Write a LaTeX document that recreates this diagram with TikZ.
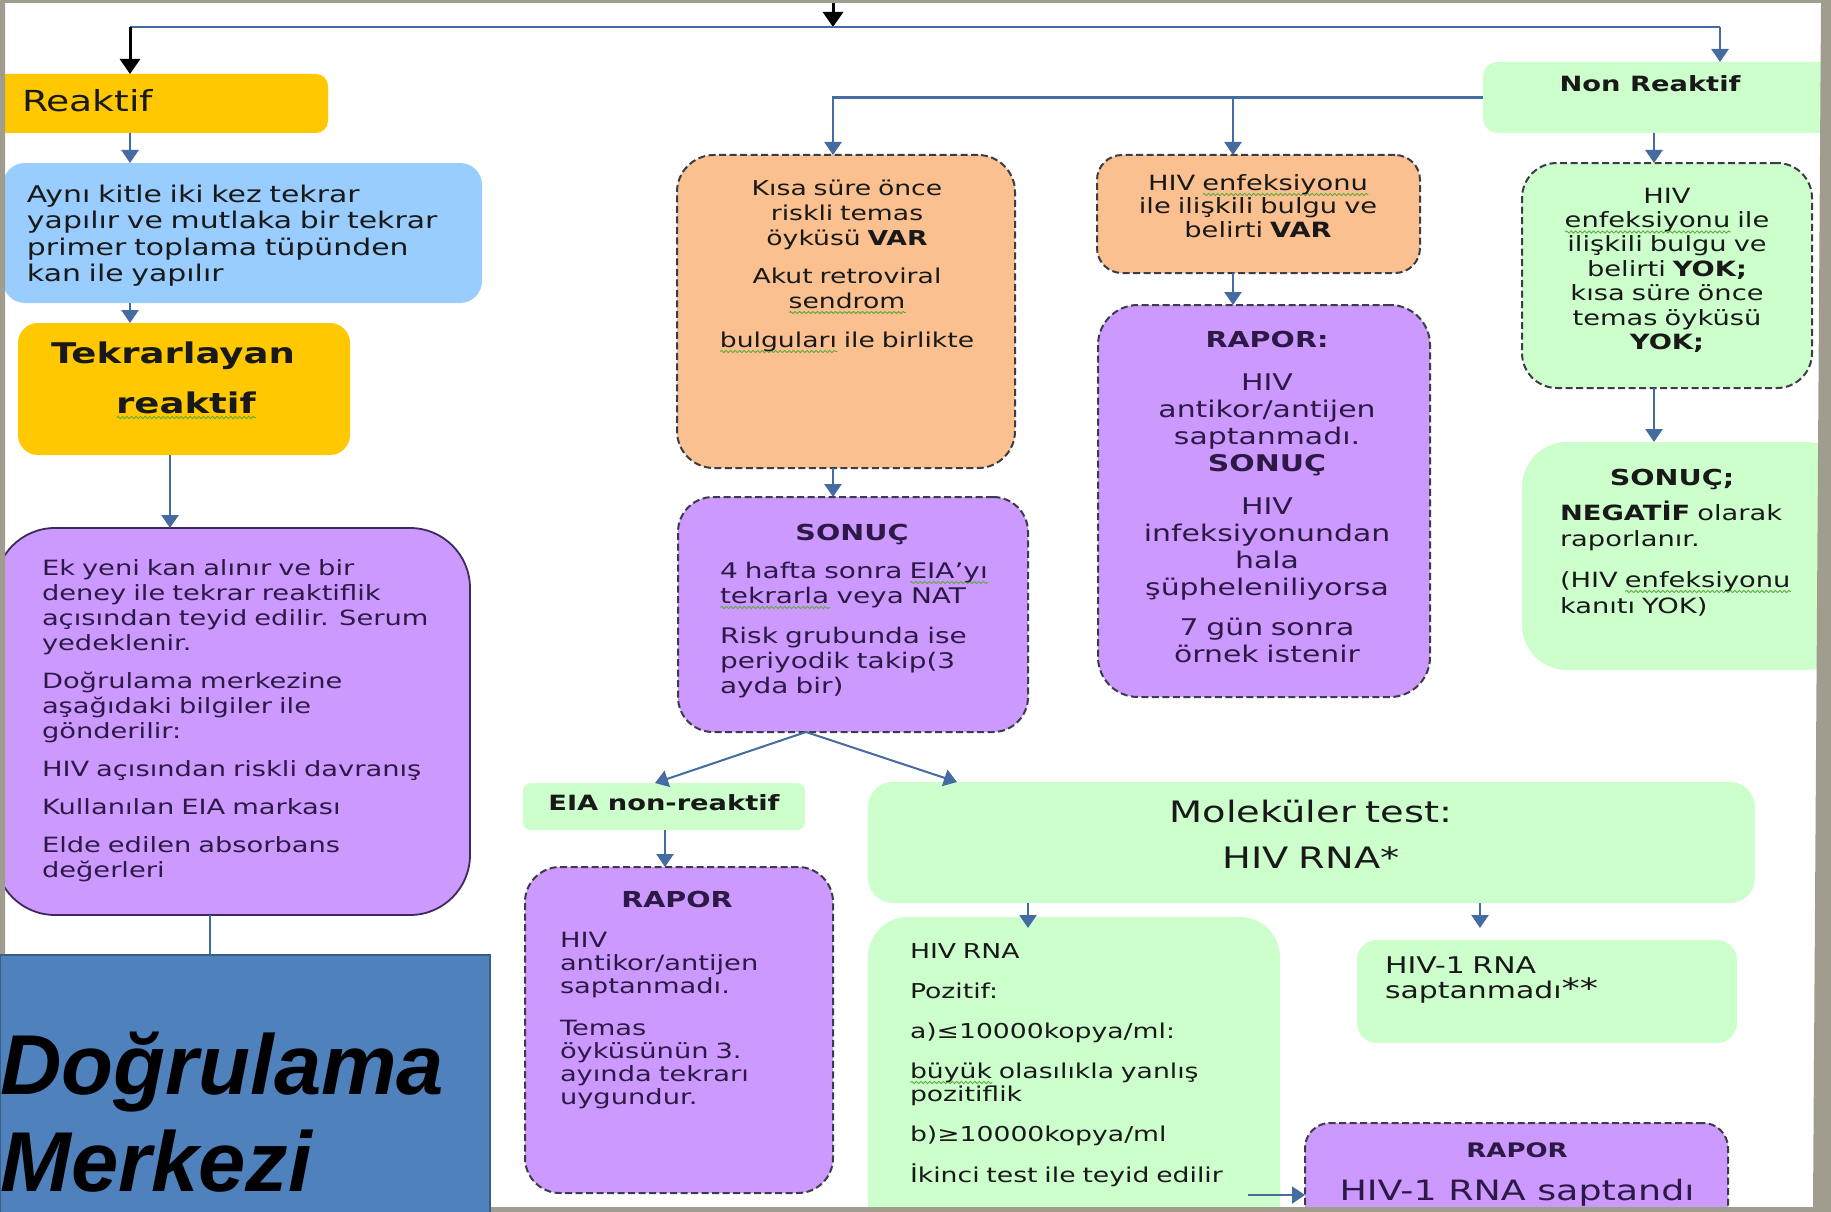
\documentclass[tikz,border=0pt]{standalone}
\usepackage{fontspec}
\setmainfont{DejaVu Sans}[FakeStretch=1.3]
\newfontfamily\dmfont{Liberation Sans}
\usetikzlibrary{arrows.meta,decorations.pathmorphing}

\definecolor{gold}{RGB}{255,200,0}
\definecolor{skyb}{RGB}{153,204,255}
\definecolor{peach}{RGB}{250,192,144}
\definecolor{lilac}{RGB}{204,153,255}
\definecolor{mint}{RGB}{204,255,204}
\definecolor{steel}{RGB}{79,129,189}
\definecolor{steeldk}{RGB}{56,93,138}
\definecolor{arrowc}{RGB}{68,108,160}
\definecolor{framec}{RGB}{160,157,143}
\definecolor{dashc}{RGB}{60,60,72}
\definecolor{ink}{RGB}{25,25,25}
\definecolor{plink}{RGB}{45,25,70}
\definecolor{purpedge}{RGB}{61,42,92}
\definecolor{squig}{RGB}{95,170,60}

% wavy spell-check underline under a word
\newlength\sqlen
\newcommand\sq[1]{\leavevmode\settowidth\sqlen{#1}\rlap{\tikz[baseline=0pt]\draw[draw=squig,fill=none,solid,sharp corners,line width=0.9pt,decorate,decoration={snake,amplitude=1.1pt,segment length=4.5pt}] (0pt,-4.5pt) -- (\sqlen,-4.5pt);}#1}

\tikzset{
  boxs/.style={rounded corners=#1, inner sep=0pt, outer sep=0pt, anchor=north west},
  dbox/.style={draw=dashc, line width=2pt, dash pattern=on 7pt off 3.5pt},
  txt/.style={inner sep=0pt, outer sep=0pt, text=ink},
  link/.style={draw=arrowc, line width=2.6pt, -{Triangle[width=17pt,length=13pt]}},
  linkk/.style={draw=black, line width=3pt, -{Triangle[width=20pt,length=15pt]}},
  plain/.style={draw=arrowc, line width=2.6pt},
}

\begin{document}
\begin{tikzpicture}[x=1pt,y=-1pt]
\useasboundingbox (0,0) rectangle (1831,1212);
\fill[white] (0,0) rectangle (1831,1212);

% ---------- boxes ----------
\node[boxs=12pt, fill=gold, minimum width=348pt, minimum height=59pt] (reaktif) at (-20,74) {};
\node[boxs=22pt, fill=skyb, minimum width=479pt, minimum height=140pt] (blue) at (3,163) {};
\node[boxs=20pt, fill=gold, minimum width=332pt, minimum height=132pt] (tekrar) at (18,323) {};
\node[boxs=60pt, fill=lilac, draw=purpedge, line width=1.8pt, minimum width=475pt, minimum height=387pt] (purpL) at (-5,528) {};

\node[boxs=37pt, fill=peach, dbox, minimum width=338pt, minimum height=313pt] (or1) at (677,155) {};
\node[boxs=35pt, fill=lilac, dbox, minimum width=350pt, minimum height=235pt] (sonuc) at (678,497) {};
\node[boxs=8pt, fill=mint, minimum width=282pt, minimum height=47pt] (eia) at (523,783) {};
\node[boxs=35pt, fill=lilac, dbox, minimum width=308pt, minimum height=326pt] (rapor1) at (525,867) {};

\node[boxs=25pt, fill=peach, dbox, minimum width=323pt, minimum height=118pt] (or2) at (1097,155) {};
\node[boxs=40pt, fill=lilac, dbox, minimum width=332pt, minimum height=392pt] (rapor2) at (1098,305) {};

\node[boxs=15pt, fill=mint, minimum width=360pt, minimum height=71pt] (nonr) at (1483,62) {};
\node[boxs=35pt, fill=mint, dbox, minimum width=290pt, minimum height=225pt] (gd) at (1522,163) {};
\node[boxs=45pt, fill=mint, minimum width=330pt, minimum height=228pt] (sonN) at (1522,442) {};

\node[boxs=25pt, fill=mint, minimum width=887pt, minimum height=121pt] (mol) at (868,782) {};
\node[boxs=40pt, fill=mint, minimum width=412pt, minimum height=330pt] (poz) at (868,917) {};
\node[boxs=20pt, fill=mint, minimum width=380pt, minimum height=103pt] (sapt) at (1357,940) {};
\node[boxs=25pt, fill=lilac, dbox, minimum width=423pt, minimum height=130pt] (rapor3) at (1305,1123) {};

% ---------- connector ports ----------
\coordinate (xA) at (130,0);
\coordinate (xB) at (170,0);
\coordinate (xH) at (210,0);
\coordinate (xC) at (833,0);
\coordinate (xD) at (1233,0);
\coordinate (xE) at (1654,0);
\coordinate (xR) at (1720,0);
\coordinate (xF) at (655,0);
\coordinate (xG) at (957,0);
\coordinate (xI) at (665,0);
\coordinate (xJ) at (1028,0);
\coordinate (xK) at (1480,0);
\coordinate (topin) at (833,0);
\coordinate (hub) at (833,27);
\coordinate (kcorner) at (130,27);
\coordinate (rcorner) at (1720,27);
\coordinate (fork) at ([xshift=-47pt]sonuc.south);
\coordinate (pozout) at (1248,1195);

% ---------- connectors ----------
\draw[linkk] (topin) -- (hub);
\draw[plain] (kcorner) -- (rcorner);
\draw[linkk] (kcorner) -- (reaktif.north -| xA);
\draw[link] (rcorner) -- (nonr.north -| xR);

\draw[link] (reaktif.south -| xA) -- (blue.north -| xA);
\draw[link] (blue.south -| xA) -- (tekrar.north -| xA);
\draw[link] (tekrar.south -| xB) -- (purpL.north -| xB);

\draw[link] (nonr.west) -| (or1.north -| xC);
\draw[link] (nonr.west -| xD) -- (or2.north -| xD);
\draw[link] (nonr.south -| xE) -- (gd.north -| xE);
\draw[link] (gd.south -| xE) -- (sonN.north -| xE);

\draw[link] (or1.south -| xC) -- (sonuc.north -| xC);
\draw[link] (or2.south -| xD) -- (rapor2.north -| xD);

\draw[link, line width=2pt] (fork) -- (eia.north -| xF);
\draw[link, line width=2pt] (fork) -- (mol.north -| xG);
\draw[link] (eia.south -| xI) -- (rapor1.north -| xI);
\draw[link, shorten >=-11pt] (mol.south -| xJ) -- (poz.north -| xJ);
\draw[link, shorten >=12pt] (mol.south -| xK) -- (sapt.north -| xK);
\draw[link, line width=2pt] (pozout) -- (rapor3.west |- pozout);

% ---------- texts ----------
\node[txt, anchor=base west, font=\fontsize{29}{34}\selectfont] (treaktif) at (22,112) {Reaktif};

\node[txt, anchor=base west, text width=460pt, align=left, font=\fontsize{23}{26.5}\selectfont] (tblue) at (27,202)
  {Aynı kitle iki kez tekrar\\ yapılır ve mutlaka bir tekrar\\ primer toplama tüpünden\\ kan ile yapılır};

\node[txt, anchor=base, text width=300pt, align=center, font=\bfseries\fontsize{28.5}{50}\selectfont] (ttekrar) at (173,363)
  {Tekrarlayan\\ \hspace*{26pt}\sq{reaktif}};

\node[txt, text=plink, anchor=base west, text width=440pt, align=left, font=\fontsize{21}{25}\selectfont] (tpurpL) at (42,575)
  {Ek yeni kan alınır ve bir\\ deney ile tekrar reaktiflik\\ açısından teyid edilir. Serum\\ yedeklenir.\\[13pt]
   Doğrulama merkezine\\ aşağıdaki bilgiler ile\\ gönderilir:\\[13pt]
   HIV açısından riskli davranış\\[13pt]
   Kullanılan EIA markası\\[13pt]
   Elde edilen absorbans\\ değerleri};

\node[txt, anchor=base, text width=320pt, align=center, font=\fontsize{20.5}{25}\selectfont] (tor1) at (847,195)
  {Kısa süre önce\\ riskli temas\\ öyküsü \textbf{VAR}\\[13pt] Akut retroviral\\ \sq{sendrom}\\[14pt] \sq{bulguları} ile birlikte};

\node[txt, text=plink, anchor=base, font=\bfseries\fontsize{22}{25}\selectfont] (tsonuch) at (852,540) {SONUÇ};
\node[txt, text=plink, anchor=base west, text width=300pt, align=left, font=\fontsize{21.5}{25}\selectfont] (tsonuc) at (720,578)
  {4 hafta sonra \sq{EIA’yı}\\ \sq{tekrarla} veya NAT\\[15pt] Risk grubunda ise\\ periyodik takip(3\\ ayda bir)};

\node[txt, anchor=base, font=\bfseries\fontsize{21}{25}\selectfont] (teia) at (664,810) {EIA non-reaktif};

\node[txt, text=plink, anchor=base, font=\bfseries\fontsize{22}{25}\selectfont] (trapor1h) at (677,907) {RAPOR};
\node[txt, text=plink, anchor=base west, text width=260pt, align=left, font=\fontsize{21}{23}\selectfont] (trapor1) at (560,947)
  {HIV\\ antikor/antijen\\ saptanmadı.\\[19pt] Temas\\ öyküsünün 3.\\ ayında tekrarı\\ uygundur.};

\node[txt, anchor=base, text width=320pt, align=center, font=\fontsize{21}{23.5}\selectfont] (tor2) at (1258,190)
  {HIV \sq{enfeksiyonu}\\ ile ilişkili bulgu ve\\ belirti \textbf{VAR}};

\node[txt, text=plink, anchor=base, font=\bfseries\fontsize{22}{25}\selectfont] (trapor2h) at (1267,347) {RAPOR:};
\node[txt, text=plink, anchor=base, text width=320pt, align=center, font=\fontsize{23}{27}\selectfont] (trapor2) at (1267,390)
  {HIV\\ antikor/antijen\\ saptanmadı.\\ \textbf{SONUÇ}\\[16pt] HIV\\ infeksiyonundan\\ hala\\ şüpheleniliyorsa\\[13pt] 7 gün sonra\\ örnek istenir};

\node[txt, anchor=base, font=\bfseries\fontsize{21}{25}\selectfont] (tnonr) at (1650,92) {Non Reaktif};

\node[txt, anchor=base, text width=290pt, align=center, font=\fontsize{21}{24.5}\selectfont] (tgd) at (1667,203)
  {HIV\\ \sq{enfeksiyonu} ile\\ ilişkili bulgu ve\\ belirti \textbf{YOK;}\\ kısa süre önce\\ temas öyküsü\\ \textbf{YOK;}};

\node[txt, anchor=base, font=\bfseries\fontsize{22}{25}\selectfont] (tsonNh) at (1672,485) {SONUÇ;};
\node[txt, anchor=base west, text width=250pt, align=left, font=\fontsize{21}{26}\selectfont] (tsonN) at (1560,520)
  {\textbf{NEGATİF} olarak\\ raporlanır.\\[15pt] (HIV \sq{enfeksiyonu}\\ kanıtı YOK)};

\node[txt, anchor=base, text width=600pt, align=center, font=\fontsize{29.5}{46}\selectfont] (tmol) at (1311,822)
  {Moleküler test:\\ HIV RNA*};

\node[txt, anchor=base west, text width=380pt, align=left, font=\fontsize{20.5}{23}\selectfont] (tpoz) at (910,958)
  {HIV RNA\\[17pt] Pozitif:\\[17pt] a)≤10000kopya/ml:\\[17pt] \sq{büyük} olasılıkla yanlış\\ pozitiflik\\[17pt] b)≥10000kopya/ml\\[17pt] İkinci test ile teyid edilir};

\node[txt, anchor=base west, text width=340pt, align=left, font=\fontsize{23}{25}\selectfont] (tsapt) at (1385,973)
  {HIV-1 RNA\\ saptanmadı{\fontsize{28}{25}\selectfont **}};

\node[txt, text=plink, anchor=base, font=\bfseries\fontsize{20}{24}\selectfont] (trapor3h) at (1517,1157) {RAPOR};
\node[txt, text=plink, anchor=base, font=\fontsize{28}{30}\selectfont] (trapor3) at (1517,1200) {HIV-1 RNA saptandı};

% ---------- slide frame ----------
\fill[framec, even odd rule] (0,0) rectangle (1831,1212)
  (5,3) -- (1821,3) -- (1813,1207) -- (5,1207) -- cycle;

% ---------- confirmation centre ----------
\node[inner sep=0pt, outer sep=0pt, anchor=north west, fill=steel, draw=steeldk, line width=2pt,
      minimum width=490pt, minimum height=262pt] (dm) at (0,955) {};
\draw[plain] (purpL.south -| xH) -- (dm.north -| xH);
\node[inner sep=0pt, anchor=base west, text width=500pt, align=left,
      font=\dmfont\bfseries\itshape\fontsize{85}{97}\selectfont] (tdm) at (0,1094) {Doğrulama\\ Merkezi};
\end{tikzpicture}
\end{document}
